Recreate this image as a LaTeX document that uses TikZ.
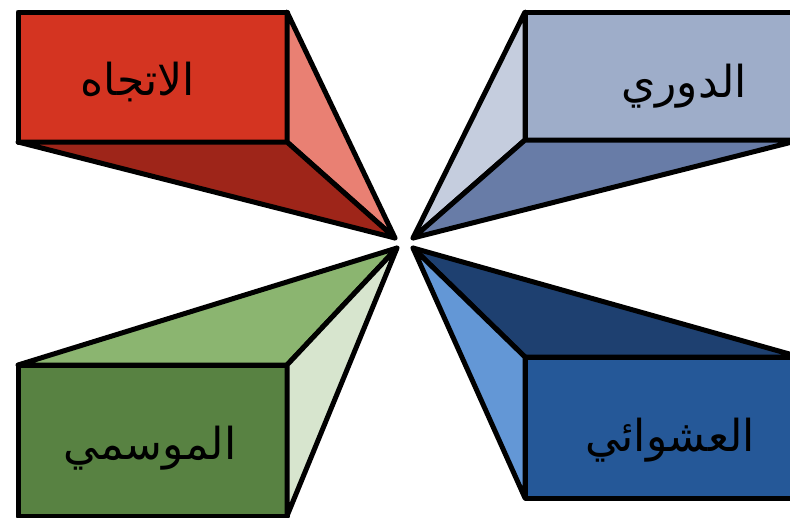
\documentclass[tikz,border=0pt]{standalone}
\usepackage{fontspec}
\newfontfamily\arabicfont[Script=Arabic]{DejaVu Sans}
\TeXXeTstate=1
\definecolor{redfront}{HTML}{D43421}
\definecolor{redside}{HTML}{E98073}
\definecolor{reddark}{HTML}{9E2519}
\definecolor{greyfront}{HTML}{9EADC9}
\definecolor{greyside}{HTML}{C5CDDE}
\definecolor{greydark}{HTML}{687CA7}
\definecolor{greenfront}{HTML}{588242}
\definecolor{greentop}{HTML}{8BB570}
\definecolor{greenside}{HTML}{D7E5CE}
\definecolor{bluefront}{HTML}{255898}
\definecolor{bluetop}{HTML}{1E4070}
\definecolor{blueside}{HTML}{6397D6}
\begin{document}
\begin{tikzpicture}[x=1pt, y=-1pt, line width=5pt, line join=round,
  frontbox/.style={draw=black, rectangle, inner sep=0pt, outer sep=0pt, anchor=north west},
  label/.style={font=\arabicfont\fontsize{44}{50}\selectfont, text=black}]
  \useasboundingbox (0,0) rectangle (790,517);
  \clip (0,0) rectangle (790,517);
  \coordinate (apexA) at (395,238);
  \coordinate (apexB) at (413,238);
  \coordinate (apexC) at (397,248);
  \coordinate (apexD) at (413,248);
  % front faces
  \node[frontbox, fill=redfront, minimum width=269pt, minimum height=130pt] (trend) at (18,12) {};
  \node[frontbox, fill=greyfront, minimum width=275pt, minimum height=128pt] (cycle) at (525,12) {};
  \node[frontbox, fill=greenfront, minimum width=269pt, minimum height=151pt] (season) at (18,365) {};
  \node[frontbox, fill=bluefront, minimum width=275pt, minimum height=141pt] (random) at (525,357) {};
  % side faces
  \filldraw[fill=redside] (trend.north east) -- (apexA) -- (trend.south east) -- cycle;
  \filldraw[fill=reddark] (trend.south west) -- (trend.south east) -- (apexA) -- cycle;
  \filldraw[fill=greyside] (cycle.north west) -- (apexB) -- (cycle.south west) -- cycle;
  \filldraw[fill=greydark] (cycle.south west) -- (cycle.south east) -- (apexB) -- cycle;
  \filldraw[fill=greentop] (season.north west) -- (season.north east) -- (apexC) -- cycle;
  \filldraw[fill=greenside] (season.north east) -- (apexC) -- (season.south east) -- cycle;
  \filldraw[fill=bluetop] (random.north west) -- (random.north east) -- (apexD) -- cycle;
  \filldraw[fill=blueside] (random.north west) -- (apexD) -- (random.south west) -- cycle;
  % labels
  \node[label] (trendlabel) at (138,82) {\beginR الاتجاه\endR};
  \node[label] (cyclelabel) at (684,86) {\beginR الدوري\endR};
  \node[label] (seasonlabel) at (150,448) {\beginR الموسمي\endR};
  \node[label] (randomlabel) at (670,440) {\beginR العشوائي\endR};
\end{tikzpicture}
\end{document}
